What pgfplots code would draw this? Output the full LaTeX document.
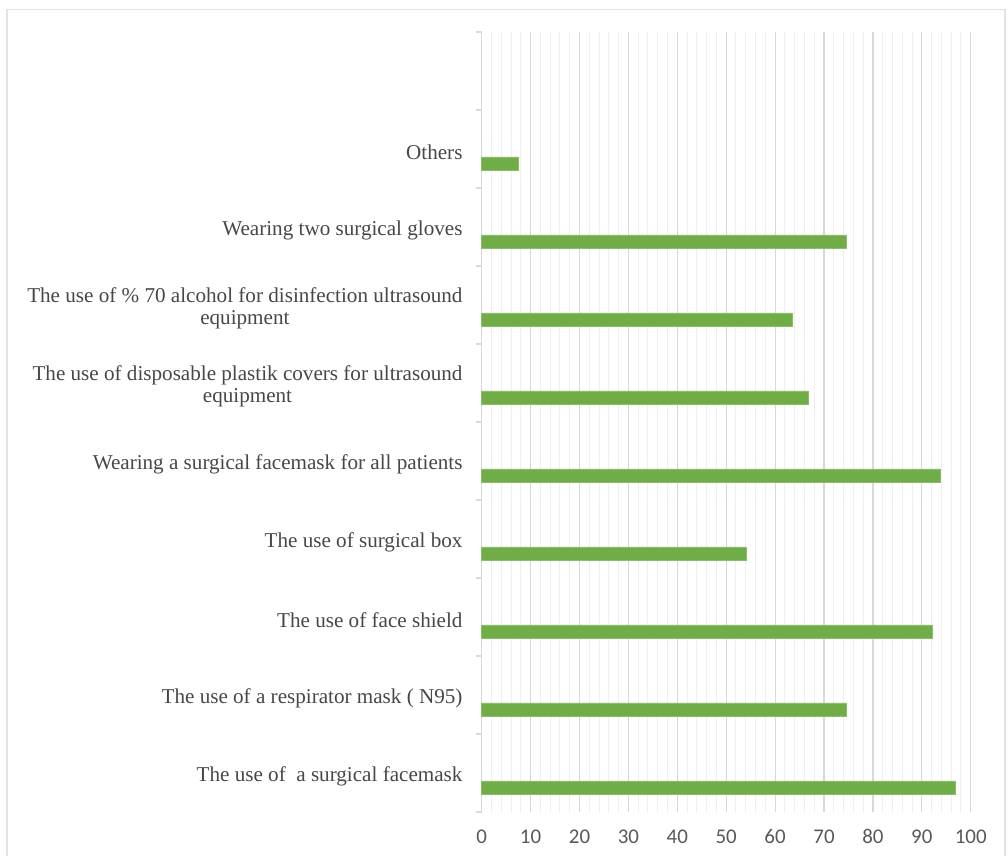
\documentclass[border=0pt]{standalone}
\usepackage{fontspec}
\setmainfont{Liberation Serif}
\newfontfamily\carlito{Carlito}
\usepackage{pgfplots}
\pgfplotsset{compat=1.18}
\definecolor{bargreen}{HTML}{70AD47}
\definecolor{labgray}{HTML}{474747}
\definecolor{tickgray}{HTML}{595959}
\definecolor{majgrid}{HTML}{D9D9D9}
\definecolor{mingrid}{HTML}{EFEFEF}
\definecolor{framegray}{HTML}{E3E3E3}
\begin{document}
\begin{tikzpicture}
\useasboundingbox (0bp,0bp) rectangle (1008bp,856bp);
\fill[white] (0bp,0bp) rectangle (1008bp,856bp);
\draw[framegray, line width=1.5bp] (7bp,-20bp) rectangle (1005bp,846.5bp);
\begin{axis}[
  at={(481.7bp,44bp)}, anchor=south west,
  scale only axis, width=489bp, height=780bp,
  xmin=0, xmax=100, ymin=-0.5, ymax=9.5,
  xtick={0,10,20,30,40,50,60,70,80,90,100},
  xticklabels={0,10,20,30,40,50,60,70,80,90,100},
  minor xtick={2,4,6,8,12,14,16,18,22,24,26,28,32,34,36,38,42,44,46,48,52,54,56,58,62,64,66,68,72,74,76,78,82,84,86,88,92,94,96,98},
  xmajorgrids, xminorgrids,
  major grid style={draw=majgrid, line width=1.2bp},
  minor grid style={draw=mingrid, line width=1bp},
  separate axis lines,
  axis x line*=bottom, axis y line*=left,
  x axis line style={draw=none},
  y axis line style={draw=majgrid, line width=1.2bp},
  xtick style={draw=none},
  minor tick length=0pt,
  ytick={-0.5,0.5,...,9.5}, yticklabels={},
  ytick style={draw=majgrid, line width=1.2bp},
  tick align=outside,
  major tick length=6bp,
  ticklabel style={font=\carlito\fontsize{21}{24}\selectfont, text=tickgray},
  xticklabel style={anchor=north, yshift=-8bp},
  clip=false,
]
\addplot[xbar, bar width=13bp, bar shift=0pt, fill=bargreen, draw=bargreen!80!white, line width=0.5bp]
  coordinates {
  (96.8,-0.183)
  (74.6,0.817)
  (92.1,1.817)
  (54.0,2.817)
  (93.7,3.817)
  (66.7,4.817)
  (63.5,5.817)
  (74.6,6.817)
  (7.5,7.817)
  };
\tikzset{catlab/.style={anchor=east, align=center, inner sep=0pt, xshift=-19bp, text=labgray, font=\fontsize{21.2}{22.5}\selectfont}}
\node[catlab] at (axis cs:0,-0.04) {The use of\ \ a surgical facemask};
\node[catlab] at (axis cs:0,0.96) {The use of a respirator mask (\ N95)};
\node[catlab] at (axis cs:0,1.96) {The use of face shield};
\node[catlab] at (axis cs:0,2.96) {The use of surgical box};
\node[catlab] at (axis cs:0,3.96) {Wearing a surgical facemask for all patients};
\node[catlab] at (axis cs:0,4.96) {The use of disposable plastik covers for ultrasound\\equipment};
\node[catlab] at (axis cs:0,5.96) {The use of \% 70 alcohol for disinfection ultrasound\\equipment};
\node[catlab] at (axis cs:0,6.96) {Wearing two surgical gloves};
\node[catlab] at (axis cs:0,7.96) {Others};
\end{axis}
\end{tikzpicture}
\end{document}
